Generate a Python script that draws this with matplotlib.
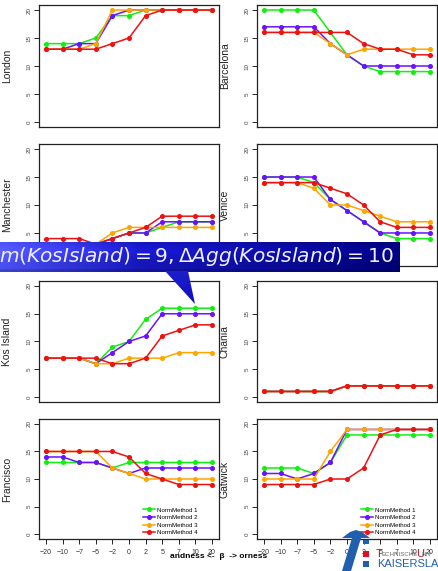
import matplotlib
matplotlib.use("Agg")
import matplotlib.pyplot as plt
import numpy as np
from matplotlib.patches import Polygon, Rectangle

plt.rcParams["font.family"] = ["Liberation Sans", "DejaVu Sans"]

beta_labels = ["−20", "−10", "−7", "−5", "−2", "0", "2", "5", "7", "10", "20"]
methods = ["NormMethod 1", "NormMethod 2", "NormMethod 3", "NormMethod 4"]
colors = ["#11ee11", "#6a11ff", "#ffa500", "#ee1111"]

# rank of each city per normalisation method (rows: method 1..4)
london = [[14, 14, 14, 15, 19, 19, 20, 20, 20, 20, 20],
          [13, 13, 14, 14, 19, 20, 20, 20, 20, 20, 20],
          [13, 13, 13, 14, 20, 20, 20, 20, 20, 20, 20],
          [13, 13, 13, 13, 14, 15, 19, 20, 20, 20, 20]]
barcelona = [[20, 20, 20, 20, 16, 12, 10, 9, 9, 9, 9],
             [17, 17, 17, 17, 14, 12, 10, 10, 10, 10, 10],
             [16, 16, 16, 16, 14, 12, 13, 13, 13, 13, 13],
             [16, 16, 16, 16, 16, 16, 14, 13, 13, 12, 12]]
manchester = [[3, 3, 3, 3, 4, 5, 5, 6, 7, 7, 7],
              [3, 3, 3, 3, 4, 5, 5, 7, 7, 7, 7],
              [3, 3, 3, 3, 5, 6, 6, 6, 6, 6, 6],
              [4, 4, 4, 3, 4, 5, 6, 8, 8, 8, 8]]
venice = [[15, 15, 15, 14, 11, 9, 7, 5, 4, 4, 4],
          [15, 15, 15, 15, 11, 9, 7, 5, 5, 5, 5],
          [14, 14, 14, 13, 10, 10, 9, 8, 7, 7, 7],
          [14, 14, 14, 14, 13, 12, 10, 7, 6, 6, 6]]
kos_island = [[7, 7, 7, 6, 9, 10, 14, 16, 16, 16, 16],
              [7, 7, 7, 6, 8, 10, 11, 15, 15, 15, 15],
              [7, 7, 7, 6, 6, 7, 7, 7, 8, 8, 8],
              [7, 7, 7, 7, 6, 6, 7, 11, 12, 13, 13]]
chania = [[1, 1, 1, 1, 1, 2, 2, 2, 2, 2, 2],
          [1, 1, 1, 1, 1, 2, 2, 2, 2, 2, 2],
          [1, 1, 1, 1, 1, 2, 2, 2, 2, 2, 2],
          [1, 1, 1, 1, 1, 2, 2, 2, 2, 2, 2]]
francisco = [[13, 13, 13, 13, 12, 13, 13, 13, 13, 13, 13],
             [14, 14, 13, 13, 12, 11, 12, 12, 12, 12, 12],
             [15, 15, 15, 15, 12, 11, 10, 10, 10, 10, 10],
             [15, 15, 15, 15, 15, 14, 11, 10, 9, 9, 9]]
gatwick = [[12, 12, 12, 11, 13, 18, 18, 18, 18, 18, 18],
           [11, 11, 10, 11, 13, 19, 19, 19, 19, 19, 19],
           [10, 10, 10, 10, 15, 19, 19, 19, 19, 19, 19],
           [9, 9, 9, 9, 10, 10, 12, 18, 19, 19, 19]]

cities = ["London", "Barcelona", "Manchester", "Venice",
          "Kos Island", "Chania", "Francisco", "Gatwick"]
ranks = [london, barcelona, manchester, venice,
         kos_island, chania, francisco, gatwick]

W, H = 438, 571
fig = plt.figure(figsize=(W / 100, H / 100), dpi=100)

col_x = [39, 257]
row_y = [(5, 127), (144, 266), (281, 402), (419, 539)]
x = np.arange(len(beta_labels))

for k, (city, data) in enumerate(zip(cities, ranks)):
    r, c = divmod(k, 2)
    top, bot = row_y[r]
    ax = fig.add_axes([col_x[c] / W, 1 - bot / H, 180 / W, (bot - top) / H])
    for vals, col, lab in zip(data, colors, methods):
        ax.plot(x, vals, color=col, lw=1.1, marker="o", ms=2.6, label=lab)
    ax.set_xlim(-0.42, 10.42)
    ax.set_ylim(-0.9, 20.9)
    ax.set_yticks([0, 5, 10, 15, 20])
    ax.tick_params(axis="y", labelsize=4.5, labelcolor="#444444", length=3.5,
                   width=0.6, pad=2, labelrotation=90)
    for t in ax.get_yticklabels():
        t.set_va("center")
    ax.set_ylabel(city, fontsize=7.5, color="#222222")
    ax.yaxis.set_label_coords(-0.15, 0.5)
    for s in ax.spines.values():
        s.set_linewidth(0.9)
        s.set_color("#222222")
    if r == 3:
        ax.set_xticks(x)
        ax.set_xticklabels(beta_labels)
        ax.tick_params(axis="x", labelsize=5, labelcolor="#333333", length=3.5,
                       width=0.6, pad=4)
        ax.legend(loc="lower right", frameon=False, fontsize=4.4, handlelength=2.0,
                  labelspacing=0.38, borderaxespad=0.2, handletextpad=0.3,
                  bbox_to_anchor=(0.9, 0.0))
    else:
        ax.set_xticks([])

fig.text(0.5, 1 - 556 / H, "andness <-  β  -> orness", ha="center", va="center",
         fontsize=6, fontweight="bold")

# overlay in pixel coordinates for the annotation banner and the logo
ov = fig.add_axes([0, 0, 1, 1], zorder=10)
ov.set_xlim(0, W)
ov.set_ylim(H, 0)
ov.axis("off")

# banner with horizontal blue gradient
bx0, bx1, by0, by1 = 0, 400, 242, 272
nx, ny = 200, 30
t = np.linspace(0, 1, nx)
stops = np.array([0.0, 0.35, 1.0])
rgb = np.array([[75, 80, 240], [22, 22, 185], [0, 0, 118]]) / 255
grad = np.stack([np.interp(t, stops, rgb[:, i]) for i in range(3)], axis=-1)
v = np.linspace(0, 1, ny)
shade = 1 + 0.18 * np.exp(-((v - 0.3) / 0.25) ** 2) - 0.15 * (v > 0.9)
img = np.clip(grad[None, :, :] * shade[:, None, None], 0, 1)
ov.imshow(img, extent=(bx0, bx1, by1, by0), aspect="auto", zorder=1,
          interpolation="bilinear")

# callout pointer
tri = Polygon([(165, 271), (188, 271), (195, 304)], closed=True,
              facecolor="none", edgecolor="none")
ov.add_patch(tri)
tg = np.linspace(0, 1, 40)
tri_img = np.stack([0.12 * (1 - tg) + 0.05 * tg,
                    0.12 * (1 - tg) + 0.05 * tg,
                    0.80 * (1 - tg) + 0.75 * tg], axis=-1)[:, None, :]
im = ov.imshow(np.repeat(tri_img, 5, axis=1), extent=(160, 200, 304, 270),
               aspect="auto", zorder=1, interpolation="bilinear")
im.set_clip_path(tri)

ov.text(-1, 257, r"$m(KosIsland) = 9, \Delta Agg(KosIsland) = 10$",
        color="#f0f0ff", fontsize=14.5, ha="left", va="center", zorder=3)

# university logo
blue = "#1f5fae"
ov.add_patch(Polygon([(342, 538), (350, 532), (356, 530), (362, 532), (370, 538)],
                     closed=True, facecolor=blue, edgecolor="none", zorder=4))
ov.add_patch(Polygon([(352, 538), (361, 538), (351, 571), (342, 571)], closed=True,
                     facecolor=blue, edgecolor="none", zorder=4))
ov.add_patch(Rectangle((363, 540), 6, 4, facecolor=blue, edgecolor="none", zorder=4))
ov.add_patch(Rectangle((363, 551), 6, 6, facecolor="#dd1122", edgecolor="none", zorder=4))
ov.add_patch(Rectangle((363, 561), 6, 6, facecolor=blue, edgecolor="none", zorder=4))
ov.text(376, 554, "T", color="#c0102a", fontsize=8, ha="left", va="center", zorder=4)
ov.text(382, 554.5, "ECHNISCHE", color="#666666", fontsize=4.4, ha="left",
        va="center", zorder=4)
ov.text(416, 554, "U", color="#c0102a", fontsize=8, ha="left", va="center", zorder=4)
ov.text(422, 554.5, "NIV", color="#666666", fontsize=4.4, ha="left", va="center",
        zorder=4)
ov.text(377, 564, "KAISERSLAUTERN", color=blue, fontsize=8, ha="left",
        va="center", zorder=4)

fig.savefig("out.png", dpi=100)
